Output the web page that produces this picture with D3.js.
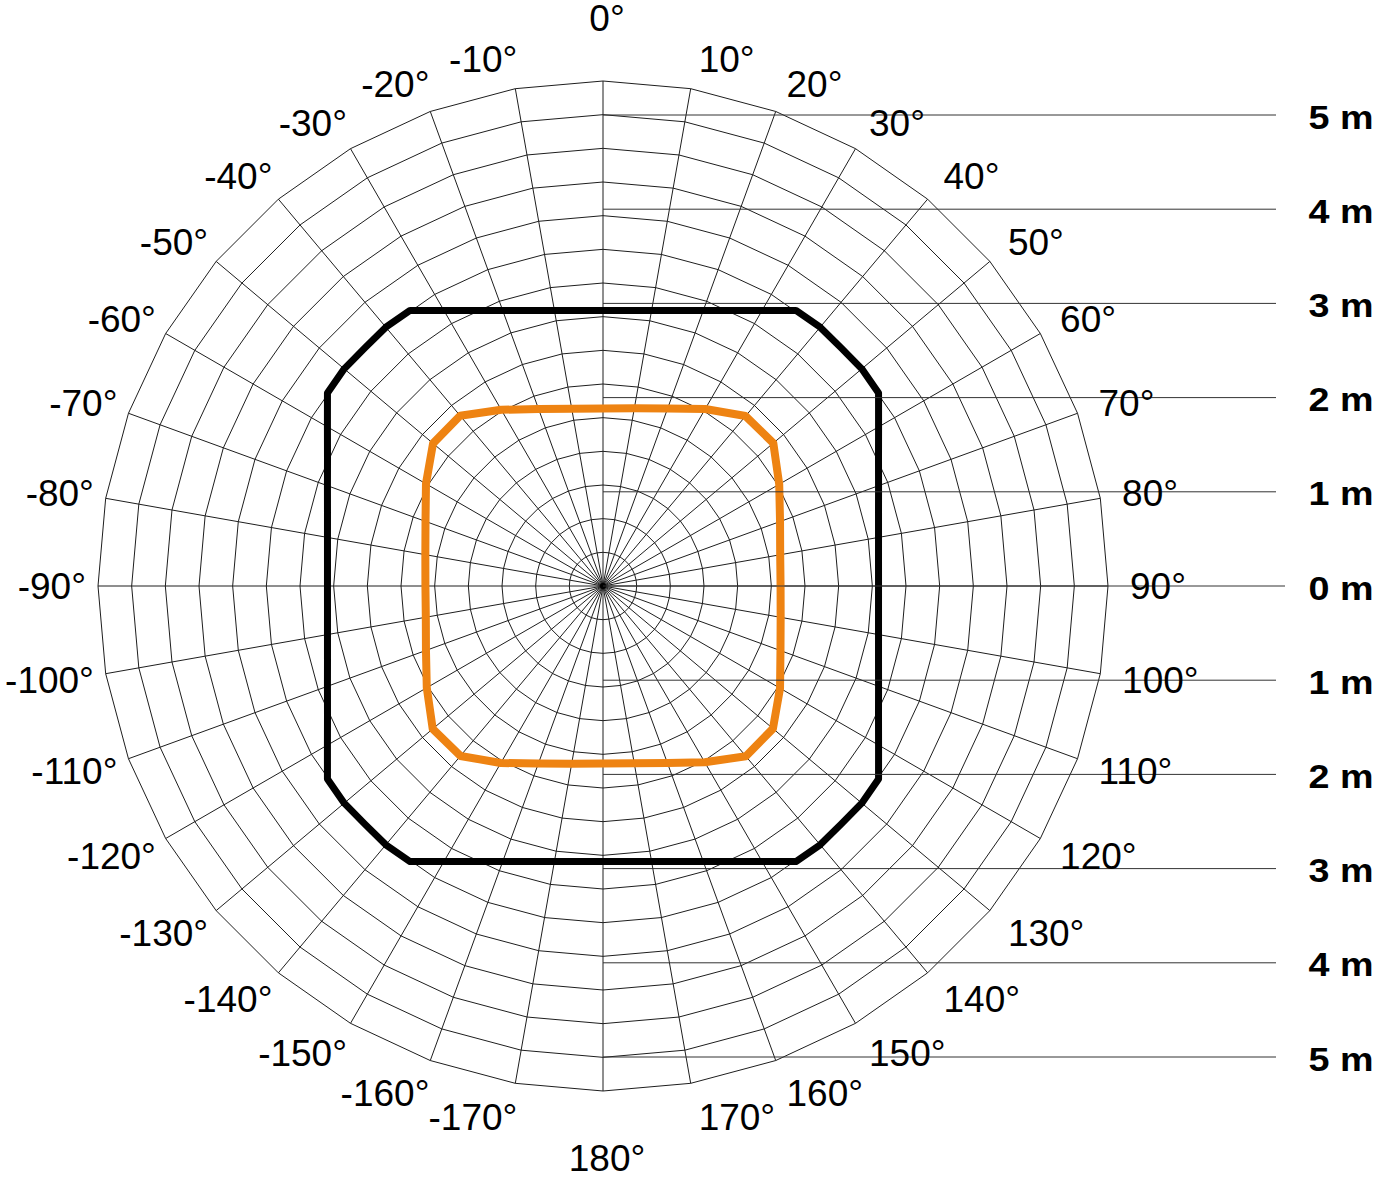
<!DOCTYPE html>
<html>
<head>
<meta charset="utf-8">
<script src="https://cdn.jsdelivr.net/npm/d3@7"></script>
<style>
  html, body { margin: 0; padding: 0; background: #ffffff; }
  svg { display: block; }
</style>
</head>
<body>
<svg id="chart" width="1380" height="1181"></svg>
<script>
// ---------------- DATA ----------------
const angleTicks = [0,10,20,30,40,50,60,70,80,90,100,110,120,130,140,150,160,170,
                    180,190,200,210,220,230,240,250,260,270,280,290,300,310,320,330,340,350];
const angleLabels = ["0°","10°","20°","30°","40°","50°","60°","70°","80°","90°",
                     "100°","110°","120°","130°","140°","150°","160°","170°","180°",
                     "-170°","-160°","-150°","-140°","-130°","-120°","-110°","-100°","-90°",
                     "-80°","-70°","-60°","-50°","-40°","-30°","-20°","-10°"];
const ringLevels = [1,2,3,4,5,6,7,8,9,10,11,12,13,14,15];

const meterTicks  = [5,4,3,2,1,0,-1,-2,-3,-4,-5];
const meterLabels = ["5 m","4 m","3 m","2 m","1 m","0 m","1 m","2 m","3 m","4 m","5 m"];

// black outline (radius in metres, every 5 degrees)
const blackAngles = [0,5,10,15,20,25,30,35,40,45,50,55,60,65,70,75,80,85,
                     90,95,100,105,110,115,120,125,130,135,140,145,150,155,160,165,170,175,
                     180,185,190,195,200,205,210,215,220,225,230,235,240,245,250,255,260,265,
                     270,275,280,285,290,295,300,305,310,315,320,325,330,335,340,345,350,355];
const blackRadius = [2.925,2.936,2.970,3.028,3.113,3.227,3.378,3.571,3.586,3.575,3.586,3.571,3.378,3.227,3.113,3.028,2.970,2.936,
                     2.925,2.936,2.970,3.028,3.113,3.227,3.378,3.571,3.586,3.575,3.586,3.571,3.378,3.227,3.113,3.028,2.970,2.936,
                     2.925,2.936,2.970,3.028,3.113,3.227,3.378,3.571,3.586,3.575,3.586,3.571,3.378,3.227,3.113,3.028,2.970,2.936,
                     2.925,2.936,2.970,3.028,3.113,3.227,3.378,3.571,3.586,3.575,3.586,3.571,3.378,3.227,3.113,3.028,2.970,2.936];

// orange outline (radius in metres, every 10 degrees)
const orangeAngles = [0,10,20,30,40,50,60,70,80,90,100,110,120,130,140,150,160,170,
                      180,190,200,210,220,230,240,250,260,270,280,290,300,310,320,330,340,350];
const orangeRadius = [1.885,1.915,2.005,2.170,2.355,2.360,2.160,2.000,1.910,
                      1.885,1.915,2.005,2.170,2.355,2.360,2.160,2.000,1.910,
                      1.885,1.915,2.005,2.170,2.355,2.360,2.160,2.000,1.910,
                      1.885,1.915,2.005,2.170,2.355,2.360,2.160,2.000,1.910];

// ---------------- CHART ----------------
const cx = 603, cy = 586;
const svg = d3.select("#chart");

const rMeters = d3.scaleLinear().domain([0, 5]).range([0, 471]);
const rRings  = d3.scaleLinear().domain([0, 15]).range([0, 505]);
const toRad   = d3.scaleLinear().domain([0, 360]).range([0, 2 * Math.PI]);
const yMeters = d3.scaleLinear().domain([-5, 5]).range([cy + 471, cy - 471]);

const g = svg.append("g").attr("transform", `translate(${cx},${cy})`);

// polygon rings
const gridG = g.append("g").attr("fill", "none").attr("stroke", "#1e1e1e").attr("stroke-width", 1);
ringLevels.forEach(k => {
  const ring = d3.lineRadial()
    .angle(a => toRad(a))
    .radius(() => rRings(k))
    .curve(d3.curveLinearClosed);
  gridG.append("path").attr("d", ring(angleTicks));
});

// spokes
gridG.selectAll("line.spoke")
  .data(angleTicks)
  .join("line")
  .attr("class", "spoke")
  .attr("x1", 0).attr("y1", 0)
  .attr("x2", a => rRings(15) * Math.sin(toRad(a)))
  .attr("y2", a => -rRings(15) * Math.cos(toRad(a)));

// central hub where the spokes converge
g.append("circle").attr("r", 3).attr("fill", "#000");

// metre reference lines
svg.append("g")
  .attr("stroke", "#333").attr("stroke-width", 1)
  .selectAll("line")
  .data(meterTicks)
  .join("line")
  .attr("x1", cx)
  .attr("x2", d => d === 0 ? 1285 : 1276)
  .attr("y1", d => yMeters(d))
  .attr("y2", d => yMeters(d));

// series outlines
function outline(angles, radii) {
  const pts = angles.map((a, i) => [a, radii[i]]);
  return d3.lineRadial()
    .angle(d => toRad(d[0]))
    .radius(d => rMeters(d[1]))
    .curve(d3.curveLinearClosed)(pts);
}
g.append("path")
  .attr("d", outline(blackAngles, blackRadius))
  .attr("fill", "none").attr("stroke", "#000").attr("stroke-width", 7)
  .attr("stroke-linejoin", "round");
g.append("path")
  .attr("d", outline(orangeAngles, orangeRadius))
  .attr("fill", "none").attr("stroke", "#EE8312").attr("stroke-width", 8)
  .attr("stroke-linejoin", "round");

// angle labels
const fsA = 37;
const labelR = 522;
svg.append("g")
  .attr("font-family", "'Liberation Sans', Arial, Helvetica, sans-serif")
  .attr("font-size", fsA)
  .attr("fill", "#000")
  .selectAll("text")
  .data(angleTicks)
  .join("text")
  .text((a, i) => angleLabels[i])
  .attr("text-anchor", a => (a === 0 || a === 180) ? "middle" : (a < 180 ? "start" : "end"))
  .attr("x", a => {
    if (a === 0 || a === 180) return cx + 4;
    return cx + 5 + labelR * Math.sin(toRad(a));
  })
  .attr("y", a => {
    const cosA = Math.cos(toRad(a));
    const ay = cy - labelR * cosA;
    let c;
    if (a === 0) c = ay - 46.5;
    else if (a === 180) c = ay + 50;
    else c = ay - (cosA > 0 ? 13 : 17) * cosA;
    return c + 0.358 * fsA;
  });

// metre labels
svg.append("g")
  .attr("font-family", "'Liberation Sans', Arial, Helvetica, sans-serif")
  .attr("font-size", 33)
  .attr("font-weight", "bold")
  .attr("fill", "#000")
  .selectAll("text")
  .data(meterTicks)
  .join("text")
  .text((d, i) => meterLabels[i])
  .attr("x", 1308.5)
  .attr("y", d => yMeters(d) + 13.5)
  .attr("textLength", 65)
  .attr("lengthAdjust", "spacingAndGlyphs");
</script>
</body>
</html>
